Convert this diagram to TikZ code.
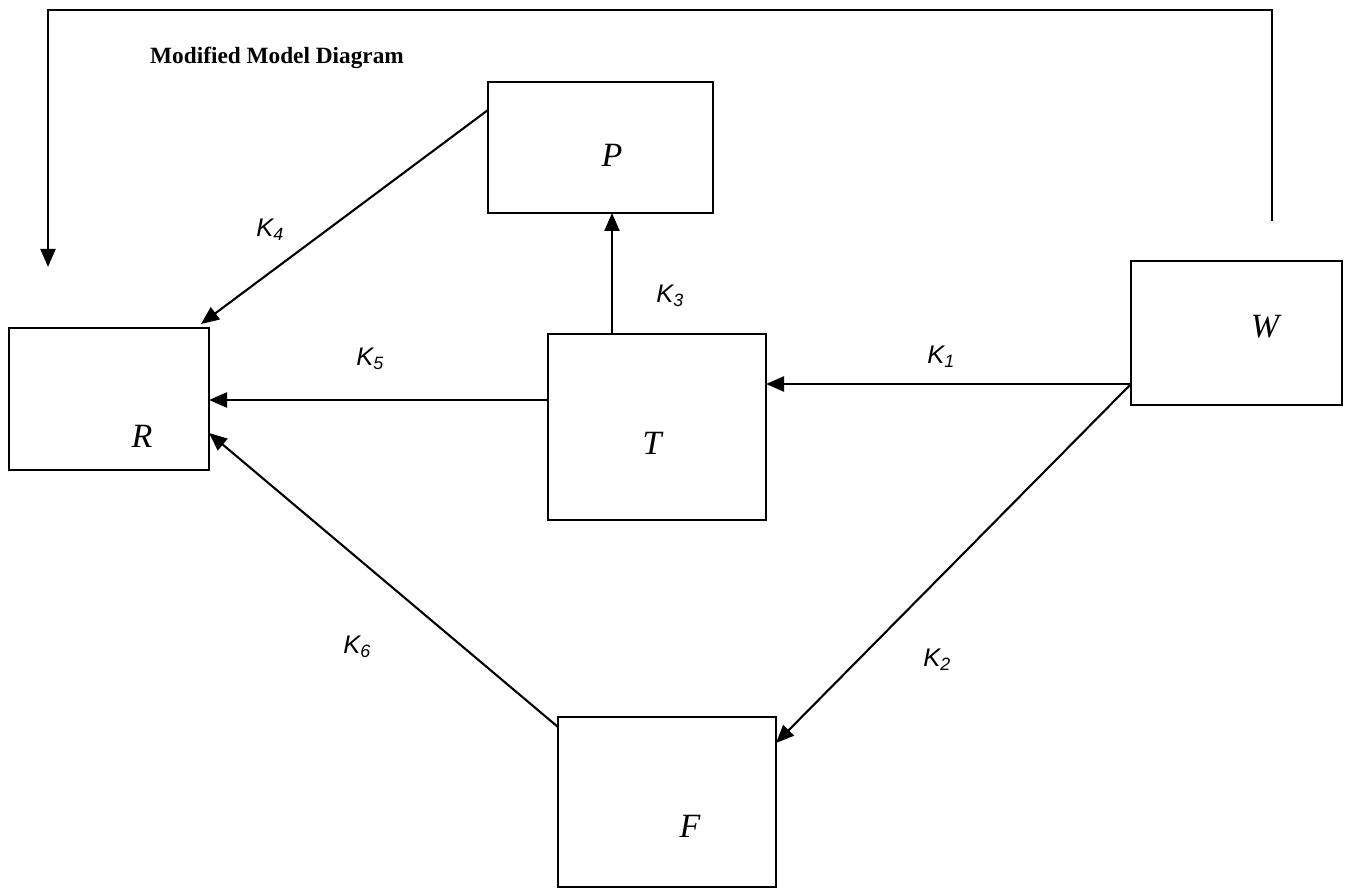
\documentclass[tikz,border=0pt]{standalone}
\usepackage{fontspec}
\setmainfont{Liberation Serif}
\setsansfont{Liberation Sans}
\usetikzlibrary{arrows.meta,calc}
\begin{document}
\begin{tikzpicture}[x=1pt,y=-1pt,
  box/.style={draw,line width=2.1pt,inner sep=0pt,outer sep=0pt},
  arr/.style={line width=2.1pt,-{Triangle[length=18pt,width=15pt]}},
  letter/.style={font=\fontsize{34}{34}\selectfont\itshape,inner sep=0pt},
  klab/.style={font=\fontsize{25.5}{25.5}\selectfont\sffamily\itshape,inner sep=0pt},
  title/.style={font=\fontsize{23.3}{24}\selectfont\bfseries,inner sep=0pt,anchor=west}]
\useasboundingbox (0,0) rectangle (1346,890);
% boxes
\node[box,minimum width=225pt,minimum height=131pt] (P) at (600.5,147.5) {};
\node[box,minimum width=200pt,minimum height=142pt] (R) at (109,399) {};
\node[box,minimum width=218pt,minimum height=186pt] (T) at (657,427) {};
\node[box,minimum width=211pt,minimum height=144pt] (W) at (1236.5,333) {};
\node[box,minimum width=218pt,minimum height=170pt] (F) at (667,802) {};
% letters
\node[letter] (lP) at (612,155) {P};
\node[letter] (lR) at (142,436) {R};
\node[letter] (lT) at (652,443) {T};
\node[letter] (lW) at (1265,327) {W};
\node[letter] (lF) at (690,826) {F};
% title
\node[title] (ttl) at (150,58) {Modified Model Diagram};
% feedback loop
\coordinate (fbstart) at (1272,221);
\coordinate (fbend) at (48,267);
\draw[arr] (fbstart) -- (1272,10) -- (48,10) -- (fbend);
% connectors
\draw[arr] ($(P.north west)+(0,28)$) -- ($(R.north west)+(192,-4)$);
\draw[arr] (T.north -| 612,0) -- (P.south -| 612,0);
\draw[arr] (T.west |- 0,400) -- (R.east |- 0,400);
\draw[arr] (W.west |- 0,384) -- (T.east |- 0,384);
\draw[arr] (W.west |- 0,384) -- (F.east |- 0,743);
\draw[arr] ($(F.north west)+(0,10)$) -- (R.east |- 0,433);
% labels
\node[klab] (k4) at (270,230) {K\textsubscript{4}};
\node[klab] (k3) at (670,296) {K\textsubscript{3}};
\node[klab] (k5) at (370,359) {K\textsubscript{5}};
\node[klab] (k1) at (941,357) {K\textsubscript{1}};
\node[klab] (k2) at (937,660) {K\textsubscript{2}};
\node[klab] (k6) at (357,647) {K\textsubscript{6}};
\end{tikzpicture}
\end{document}
